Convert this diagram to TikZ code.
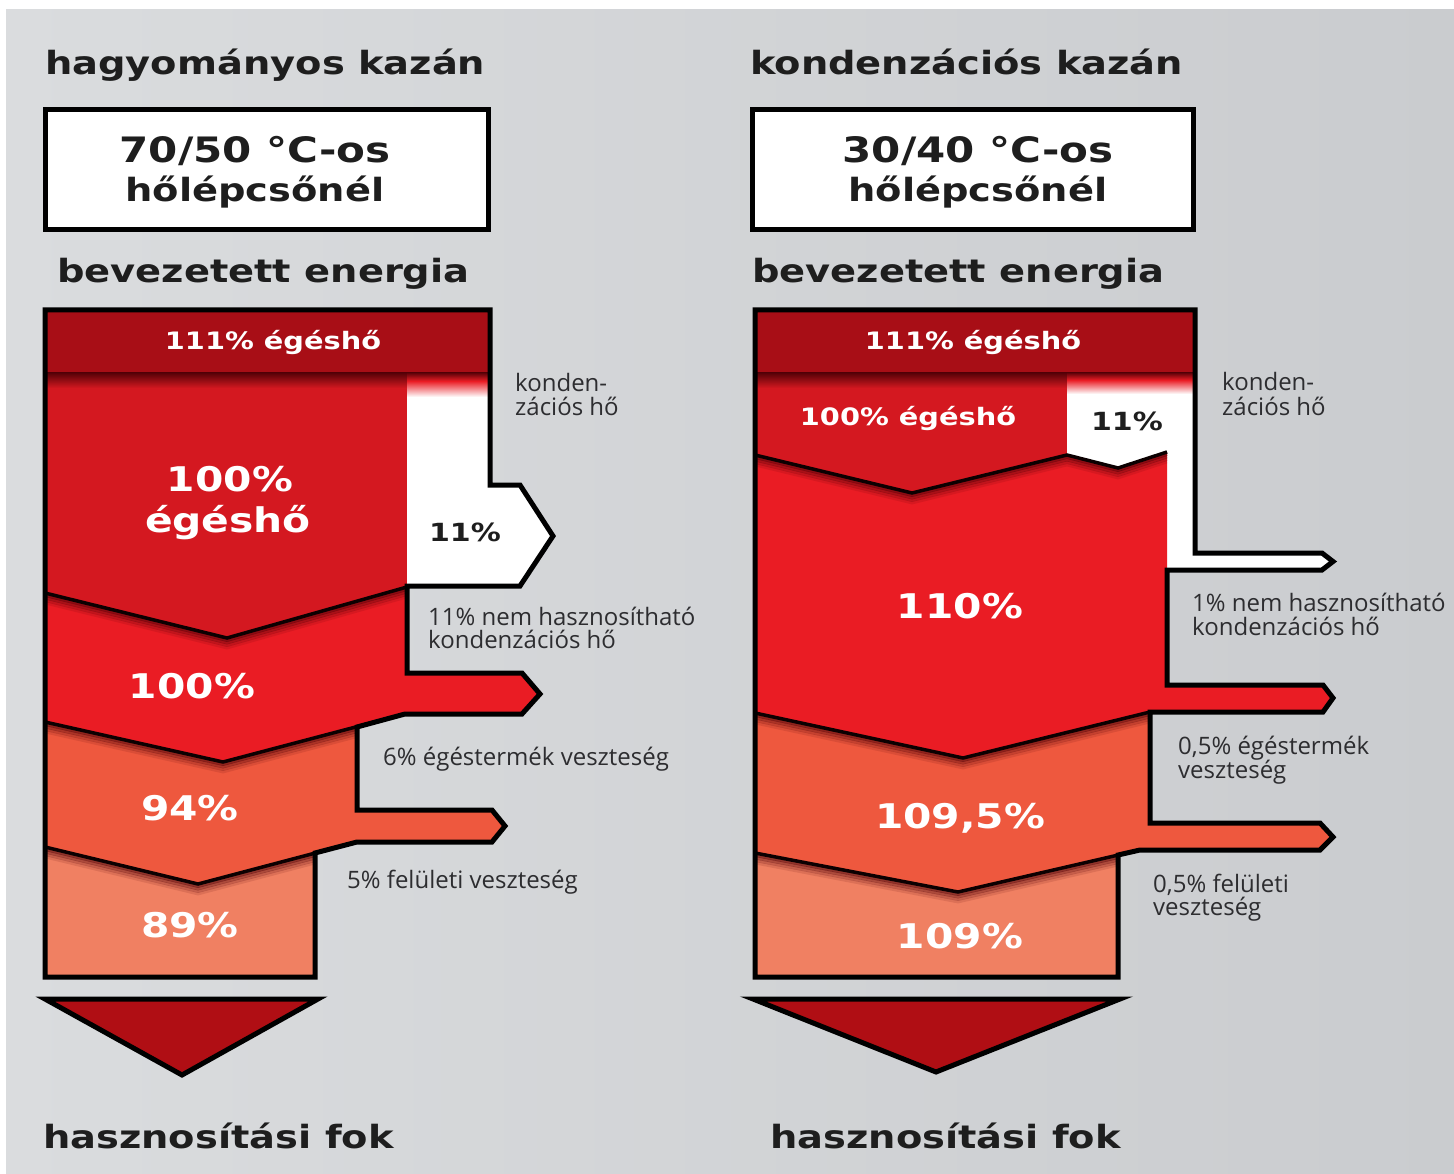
\documentclass[tikz,border=0pt]{standalone}
\usepackage{fontspec}
\newfontfamily\hdfont[FakeStretch=1.2]{DejaVu Sans}
\newfontfamily\lblfont{Open Sans}
\definecolor{bandc}{RGB}{168,14,22}
\definecolor{egc}{RGB}{212,24,32}
\definecolor{redc}{RGB}{234,28,36}
\definecolor{orc}{RGB}{238,88,62}
\definecolor{ltc}{RGB}{240,128,98}
\definecolor{tric}{RGB}{176,14,20}
\definecolor{shadc}{RGB}{80,0,6}
\definecolor{headc}{RGB}{30,30,30}
\definecolor{lblc}{RGB}{45,45,48}
\definecolor{bgl}{RGB}{218,220,222}
\definecolor{bgm}{RGB}{224,225,227}
\definecolor{bgr}{RGB}{202,204,207}
\begin{document}
\begin{tikzpicture}[x=1pt,y=-1pt,
  hd/.style={font=\hdfont\bfseries\fontsize{32}{36}\selectfont, text=headc, inner sep=0pt, anchor=base west},
  boxt/.style={font=\hdfont\bfseries\fontsize{35}{38}\selectfont, text=headc, inner sep=0pt, anchor=base},
  boxtb/.style={font=\hdfont\bfseries\fontsize{32}{36}\selectfont, text=headc, inner sep=0pt, anchor=base},
  num/.style={font=\hdfont\bfseries\fontsize{34}{38}\selectfont, text=white, inner sep=0pt, anchor=base},
  smnum/.style={font=\hdfont\bfseries\fontsize{24}{28}\selectfont, text=white, inner sep=0pt, anchor=base},
  lbl/.style={font=\lblfont\fontsize{24}{26}\selectfont, text=lblc, inner sep=0pt, anchor=base west},
  boxst/.style={draw=black, line width=5pt, fill=white},
  outl/.style={draw=black, line width=5pt, line join=miter},
  chev/.style={draw=black!85!shadc, line width=3.5pt, line join=miter},
  tri/.style={draw=black, line width=5pt, fill=tric, line join=miter}]
\useasboundingbox (0,0) rectangle (1454,1174);
\fill[white] (0,0) rectangle (1454,1174);
\shade[left color=bgl, middle color=bgm, right color=bgr] (6,10) rectangle (1454,1174);

% ---------------- headings ----------------
\node[hd] (lt) at (45,75) {hagyományos kazán};
\node[hd] (rt) at (750,75) {kondenzációs kazán};
\draw[boxst] (45,110) rectangle (488,230);
\draw[boxst] (752,110) rectangle (1193,230);
\node[boxt] (lb1) at (255,163) {70/50 °C-os};
\node[boxtb] (lb2) at (255,202) {hőlépcsőnél};
\node[boxt] (rb1) at (978,163) {30/40 °C-os};
\node[boxtb] (rb2) at (978,202) {hőlépcsőnél};
\node[hd] (le) at (57,283) {bevezetett energia};
\node[hd] (re) at (752,283) {bevezetett energia};

% ---------------- left diagram regions ----------------
\fill[bandc] (45,310) rectangle (490,372);
\fill[egc] (45,372) -- (407,372) -- (407,587) -- (227,638) -- (45,593) -- cycle;
\fill[white] (407,372) -- (490,372) -- (490,485) -- (520,485) -- (553,536) -- (520,586) -- (407,586) -- cycle;
\fill[redc] (45,593) -- (227,638) -- (407,587) -- (407,673) -- (522,673) -- (540,694) -- (522,714) -- (405,714) -- (223,762) -- (45,722) -- cycle;
\fill[orc] (45,722) -- (223,762) -- (357,727) -- (357,810) -- (492,810) -- (505,826) -- (492,842) -- (357,842) -- (198,884) -- (45,847) -- cycle;
\fill[ltc] (45,847) -- (198,884) -- (315,853) -- (315,977) -- (45,977) -- cycle;

\begin{scope}
\clip (45,310) -- (490,310) -- (490,485) -- (520,485) -- (553,536) -- (520,586) -- (407,586) -- (407,673) -- (522,673) -- (540,694) -- (522,714) -- (405,714) -- (357,727) -- (357,810) -- (492,810) -- (505,826) -- (492,842) -- (357,842) -- (315,853) -- (315,977) -- (45,977) -- cycle;
\shade[top color=shadc, bottom color=egc] (45,372) rectangle (407,388);
\shade[top color=shadc, bottom color=redc] (407,372) rectangle (490,381);
\shade[top color=redc, bottom color=white] (407,381) rectangle (490,397);
\foreach \o/\op in {2.5/0.6,5/0.42,7.5/0.26,10/0.12}{
  \draw[shadc, line width=2.8pt, opacity=\op, shift={(0,\o)}] (45,593) -- (227,638) -- (407,587);
  \draw[shadc, line width=2.8pt, opacity=\op, shift={(0,\o)}] (45,722) -- (223,762) -- (405,714);
  \draw[shadc, line width=2.8pt, opacity=\op, shift={(0,\o)}] (45,847) -- (198,884) -- (357,842);
}
\draw[chev] (45,593) -- (227,638) -- (407,587);
\draw[chev] (45,722) -- (223,762) -- (405,714);
\draw[chev] (45,847) -- (198,884) -- (357,842);
\end{scope}
\draw[outl] (45,310) -- (490,310) -- (490,485) -- (520,485) -- (553,536) -- (520,586) -- (407,586) -- (407,673) -- (522,673) -- (540,694) -- (522,714) -- (405,714) -- (357,727) -- (357,810) -- (492,810) -- (505,826) -- (492,842) -- (357,842) -- (315,853) -- (315,977) -- (45,977) -- cycle;

% ---------------- right diagram regions ----------------
\fill[bandc] (755,310) rectangle (1195,372);
\fill[egc] (755,372) -- (1067,372) -- (1067,455) -- (912,493) -- (755,455) -- cycle;
\fill[white] (1067,372) -- (1195,372) -- (1195,553) -- (1322,553) -- (1333,561.5) -- (1322,570) -- (1167,570) -- (1167,452) -- (1118,468) -- (1067,455) -- cycle;
\fill[redc] (755,455) -- (912,493) -- (1067,455) -- (1118,468) -- (1167,452) -- (1167,685) -- (1323,685) -- (1333,698) -- (1323,712) -- (1150,712) -- (963,758) -- (755,713) -- cycle;
\fill[orc] (755,713) -- (963,758) -- (1150,712) -- (1150,823) -- (1320,823) -- (1333,837) -- (1320,850) -- (1140,850) -- (958,892) -- (755,853) -- cycle;
\fill[ltc] (755,853) -- (958,892) -- (1118,855) -- (1118,977) -- (755,977) -- cycle;

\begin{scope}
\clip (755,310) -- (1195,310) -- (1195,553) -- (1322,553) -- (1333,561.5) -- (1322,570) -- (1167,570) -- (1167,685) -- (1323,685) -- (1333,698) -- (1323,712) -- (1150,712) -- (1150,823) -- (1320,823) -- (1333,837) -- (1320,850) -- (1140,850) -- (1118,855) -- (1118,977) -- (755,977) -- cycle;
\shade[top color=shadc, bottom color=egc] (755,372) rectangle (1067,388);
\shade[top color=shadc, bottom color=redc] (1067,372) rectangle (1195,380);
\shade[top color=redc, bottom color=white] (1067,380) rectangle (1195,394);
\foreach \o/\op in {2.5/0.6,5/0.42,7.5/0.26,10/0.12}{
  \draw[shadc, line width=2.8pt, opacity=\op, shift={(0,\o)}] (755,455) -- (912,493) -- (1067,455) -- (1118,468) -- (1167,452);
  \draw[shadc, line width=2.8pt, opacity=\op, shift={(0,\o)}] (755,713) -- (963,758) -- (1150,712);
  \draw[shadc, line width=2.8pt, opacity=\op, shift={(0,\o)}] (755,853) -- (958,892) -- (1140,850);
}
\draw[chev] (755,455) -- (912,493) -- (1067,455) -- (1118,468) -- (1167,452);
\draw[chev] (755,713) -- (963,758) -- (1150,712);
\draw[chev] (755,853) -- (958,892) -- (1140,850);
\end{scope}
\draw[outl] (755,310) -- (1195,310) -- (1195,553) -- (1322,553) -- (1333,561.5) -- (1322,570) -- (1167,570) -- (1167,685) -- (1323,685) -- (1333,698) -- (1323,712) -- (1150,712) -- (1150,823) -- (1320,823) -- (1333,837) -- (1320,850) -- (1140,850) -- (1118,855) -- (1118,977) -- (755,977) -- cycle;

% ---------------- numbers ----------------
\node[smnum] (l111) at (273,349) {111\% égéshő};
\node[num] (l100a) at (230,491) {100\%};
\node[num] (legh) at (228,532) {égéshő};
\node[smnum, text=headc, font=\hdfont\bfseries\fontsize{25}{28}\selectfont] (l11) at (465,541) {11\%};
\node[num] (l100) at (192,698) {100\%};
\node[num] (l94) at (190,820) {94\%};
\node[num] (l89) at (190,937) {89\%};

\node[smnum] (r111) at (973,349) {111\% égéshő};
\node[smnum] (r100) at (908,425) {100\% égéshő};
\node[smnum, text=headc, font=\hdfont\bfseries\fontsize{25}{28}\selectfont] (r11) at (1127,430) {11\%};
\node[num] (r110) at (960,618) {110\%};
\node[num] (r1095) at (960,828) {109,5\%};
\node[num] (r109) at (960,948) {109\%};

% ---------------- labels ----------------
\node[lbl] (lk1) at (515,391) {konden-};
\node[lbl] (lk2) at (515,415) {zációs hő};
\node[lbl] (ln1) at (428,625) {11\% nem hasznosítható};
\node[lbl] (ln2) at (428,648) {kondenzációs hő};
\node[lbl] (lg) at (383,765) {6\% égéstermék veszteség};
\node[lbl] (lf) at (347,888) {5\% felületi veszteség};

\node[lbl] (rk1) at (1222,390) {konden-};
\node[lbl] (rk2) at (1222,415) {zációs hő};
\node[lbl] (rn1) at (1192,611) {1\% nem hasznosítható};
\node[lbl] (rn2) at (1192,635) {kondenzációs hő};
\node[lbl] (rg1) at (1178,754) {0,5\% égéstermék};
\node[lbl] (rg2) at (1178,778) {veszteség};
\node[lbl] (rf1) at (1153,892) {0,5\% felületi};
\node[lbl] (rf2) at (1153,915) {veszteség};

% ---------------- bottom ----------------
\draw[tri] (45,999) -- (318,999) -- (182,1075) -- cycle;
\draw[tri] (753,999) -- (1120,999) -- (936,1072) -- cycle;
\node[hd] (lh) at (43,1148) {hasznosítási fok};
\node[hd] (rh) at (770,1148) {hasznosítási fok};
\end{tikzpicture}
\end{document}
